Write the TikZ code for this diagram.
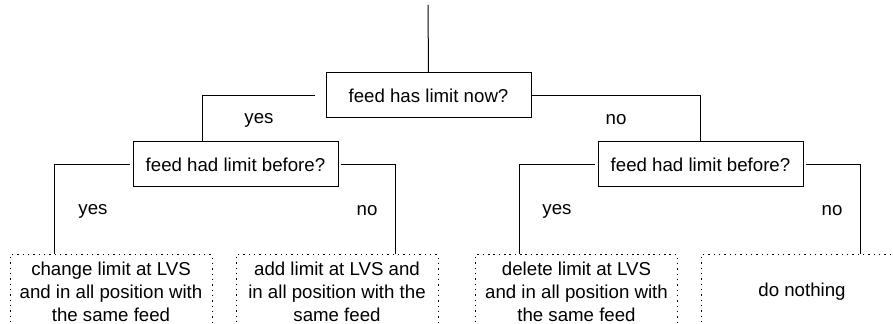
\documentclass[tikz,border=0pt]{standalone}
\usepackage{fontspec}
\setmainfont{Liberation Sans}
\begin{document}
\begin{tikzpicture}[x=0.75pt,y=-0.75pt,
  every node/.style={font=\fontsize{14}{17.25}\selectfont},
  decision/.style={draw,line width=0.75pt,rectangle,inner sep=0pt,
    minimum width=153.75pt,minimum height=33.75pt},
  action/.style={draw,line width=0.75pt,rectangle,inner sep=0pt,
    dash pattern=on 1.1pt off 2.9pt,align=center,
    minimum width=151.5pt,minimum height=55.5pt},
  wire/.style={line width=0.75pt},
  answer/.style={inner sep=0pt}]
\useasboundingbox (0,0) rectangle (893,324);
\clip (0,0) rectangle (893,324);

% questions
\node[decision] (root) at (428.5,95.5) {feed has limit now?};
\node[decision] (qL) at (235.5,164.5) {feed had limit before?};
\node[decision] (qR) at (700.5,164.5) {feed had limit before?};

% outcomes (their lower edges run off the page)
\node[action] (a1) at (111,292) {change limit at LVS\\and in all position with\\the same feed};
\node[action] (a2) at (337,292) {add limit at LVS and\\in all position with the\\same feed};
\node[action] (a3) at (576.5,292) {delete limit at LVS\\and in all position with\\the same feed};
\node[action] (a4) at (802,292) {do nothing};

% incoming line
\coordinate (entry) at (428,5);
\draw[wire] (entry) -- (root.north);

% branches
\draw[wire] ([xshift=-8pt]root.west) -| ([xshift=-25pt]qL.north);
\draw[wire] (root.east) -| (qR.north);
\draw[wire] ([xshift=-2pt]qL.west) -| ([xshift=-42.75pt]a1.north);
\draw[wire] ([xshift=1.5pt]qL.east) -| ([xshift=43.5pt]a2.north);
\draw[wire] ([xshift=-2pt]qR.west) -| ([xshift=-42.4pt]a3.north);
\draw[wire] ([xshift=1.5pt]qR.east) -| ([xshift=43.5pt]a4.north);

% branch labels
\node[answer] (y0) at (259,120) {yes};
\node[answer] (n0) at (616,120) {no};
\node[answer] (y1) at (93,211) {yes};
\node[answer] (n1) at (367,211) {no};
\node[answer] (y2) at (557,211) {yes};
\node[answer] (n2) at (832,211) {no};
\end{tikzpicture}
\end{document}
